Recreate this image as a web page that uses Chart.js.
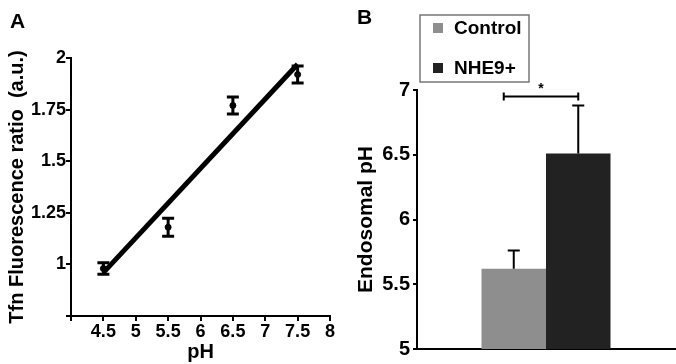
<!DOCTYPE html>
<html lang="en">
<head>
    <meta charset="UTF-8" />
    <title>Endosomal pH</title>
    <script src="https://cdn.jsdelivr.net/npm/chart.js"></script>
    <style>
        body { margin: 0; background: #fff; }
        .painel { position: absolute; top: 0; }
        .letra { position: absolute; font: bold 21px "Liberation Sans", Arial, sans-serif; }
    </style>
</head>
<body>
    <canvas id="chartA" class="painel" width="340" height="364" style="left:0px"></canvas>
    <canvas id="chartB" class="painel" width="336" height="364" style="left:340px"></canvas>
    <div class="letra" style="left:10px; top:9px">A</div>
    <div class="letra" style="left:357px; top:5px">B</div>

<script>
    // painel A: razao de fluorescencia x pH
    var phValues = [4.5, 5.5, 6.5, 7.5];
    var ratioValues = [0.98, 1.18, 1.77, 1.92];
    var ratioErrors = [0.028, 0.044, 0.041, 0.041];
    var fitX = [4.5, 7.5];
    var fitY = [0.96, 1.97];
    var xTicks = [4, 4.5, 5, 5.5, 6, 6.5, 7, 7.5, 8];
    var yTicksA = [0.75, 1, 1.25, 1.5, 1.75, 2];

    // painel B: pH endossomal
    var groups = ["Control", "NHE9+"];
    var endosomalPH = [5.62, 6.51];
    var endosomalErr = [0.14, 0.37];
    var groupColors = ["#8e8e8e", "#222222"];
    var yTicksB = [5, 5.5, 6, 6.5, 7];
    var sigLevel = 6.95;

    var FONTE = '"Liberation Sans", Arial, sans-serif';
    Chart.defaults.font.family = FONTE;
    Chart.defaults.font.weight = "bold";
    Chart.defaults.color = "#000";

    // barras de erro do painel A (simetricas)
    var errosA = {
        id: "errosA",
        afterDatasetsDraw(chart) {
            var ctx = chart.ctx;
            var x = chart.scales.x, y = chart.scales.y;
            ctx.save();
            ctx.strokeStyle = "#000";
            ctx.lineWidth = 3;
            for (var i = 0; i < phValues.length; i++) {
                var px = x.getPixelForValue(phValues[i]);
                var top = y.getPixelForValue(ratioValues[i] + ratioErrors[i]);
                var bot = y.getPixelForValue(ratioValues[i] - ratioErrors[i]);
                ctx.beginPath();
                ctx.moveTo(px, top); ctx.lineTo(px, bot);
                ctx.moveTo(px - 6, top); ctx.lineTo(px + 6, top);
                ctx.moveTo(px - 6, bot); ctx.lineTo(px + 6, bot);
                ctx.stroke();
            }
            ctx.restore();
        }
    };

    new Chart(document.getElementById("chartA"), {
        type: "scatter",
        data: {
            datasets: [
                {
                    type: "line",
                    data: fitX.map(function (v, i) { return { x: v, y: fitY[i] }; }),
                    borderColor: "#000",
                    borderWidth: 5,
                    pointRadius: 0,
                    order: 2
                },
                {
                    data: phValues.map(function (v, i) { return { x: v, y: ratioValues[i] }; }),
                    backgroundColor: "#000",
                    borderColor: "#000",
                    pointRadius: 3,
                    order: 1
                }
            ]
        },
        options: {
            responsive: false,
            animation: false,
            layout: { padding: { top: 58, right: 10, left: 0, bottom: 0 } },
            plugins: { legend: { display: false }, tooltip: { enabled: false } },
            scales: {
                x: {
                    type: "linear",
                    min: 4, max: 8,
                    afterFit: function (s) { s.height = 48; },
                    afterBuildTicks: function (s) { s.ticks = xTicks.map(function (v) { return { value: v }; }); },
                    ticks: {
                        font: { size: 18, weight: "bold" },
                        padding: 0,
                        maxRotation: 0,
                        callback: function (v) { return v === 4 ? "" : String(v); }
                    },
                    grid: { drawOnChartArea: false, tickLength: 5, color: "#000", lineWidth: 2 },
                    border: { color: "#000", width: 2 },
                    title: { display: true, text: "pH", font: { size: 20, weight: "bold" }, padding: { top: 0, bottom: 0 } }
                },
                y: {
                    min: 0.75, max: 2,
                    afterFit: function (s) { s.width = 71; },
                    afterBuildTicks: function (s) { s.ticks = yTicksA.map(function (v) { return { value: v }; }); },
                    ticks: {
                        font: { size: 18, weight: "bold" },
                        padding: 0,
                        callback: function (v) { return v === 0.75 ? "" : String(v); }
                    },
                    grid: { drawOnChartArea: false, tickLength: 5, color: "#000", lineWidth: 2 },
                    border: { color: "#000", width: 2 },
                    title: { display: true, text: "Tfn Fluorescence ratio  (a.u.)", font: { size: 20, weight: "bold" }, padding: { top: 5, bottom: 0 } }
                }
            }
        },
        plugins: [errosA]
    });

    // erro so para cima, legenda em caixa e barra de significancia
    var extrasB = {
        id: "extrasB",
        afterDatasetsDraw(chart) {
            var ctx = chart.ctx;
            var y = chart.scales.y;
            var area = chart.chartArea;
            ctx.save();
            ctx.strokeStyle = "#000";
            ctx.lineWidth = 2;
            var centros = [];
            for (var i = 0; i < groups.length; i++) {
                var barra = chart.getDatasetMeta(i).data[0];
                centros.push(barra.x);
                var topo = y.getPixelForValue(endosomalPH[i] + endosomalErr[i]);
                var base = y.getPixelForValue(endosomalPH[i]);
                ctx.beginPath();
                ctx.moveTo(barra.x, base); ctx.lineTo(barra.x, topo);
                ctx.moveTo(barra.x - 6, topo); ctx.lineTo(barra.x + 6, topo);
                ctx.stroke();
            }

            // barra do asterisco
            var ys = y.getPixelForValue(sigLevel);
            var x1 = centros[0] - 10, x2 = centros[1];
            ctx.beginPath();
            ctx.moveTo(x1, ys); ctx.lineTo(x2, ys);
            ctx.moveTo(x1, ys - 4); ctx.lineTo(x1, ys + 4);
            ctx.moveTo(x2, ys - 4); ctx.lineTo(x2, ys + 4);
            ctx.stroke();
            ctx.fillStyle = "#000";
            ctx.font = "bold 14px " + FONTE;
            ctx.textAlign = "center";
            ctx.textBaseline = "middle";
            ctx.fillText("*", (x1 + x2) / 2, ys - 7);

            // legenda
            var lx = area.left + 3, ly = 15;
            ctx.strokeStyle = "#777";
            ctx.lineWidth = 1.5;
            ctx.strokeRect(lx, ly, 109, 67);
            ctx.font = "bold 19px " + FONTE;
            ctx.textAlign = "left";
            for (var j = 0; j < groups.length; j++) {
                var cy = ly + 13 + j * 40;
                ctx.fillStyle = groupColors[j];
                ctx.fillRect(lx + 13, cy - 5, 10, 10);
                ctx.fillStyle = "#000";
                ctx.fillText(groups[j], lx + 34, cy + 1);
            }
            ctx.restore();
        }
    };

    new Chart(document.getElementById("chartB"), {
        type: "bar",
        data: {
            labels: [""],
            datasets: groups.map(function (g, i) {
                return {
                    label: g,
                    data: [endosomalPH[i]],
                    backgroundColor: groupColors[i],
                    categoryPercentage: 0.5,
                    barPercentage: 1.0
                };
            })
        },
        options: {
            responsive: false,
            animation: false,
            layout: { padding: { top: 90, right: 1, left: 0, bottom: 0 } },
            plugins: { legend: { display: false }, tooltip: { enabled: false } },
            scales: {
                x: {
                    afterFit: function (s) { s.height = 15; },
                    ticks: { display: false },
                    grid: { display: false },
                    border: { color: "#000", width: 2 }
                },
                y: {
                    min: 5, max: 7,
                    afterFit: function (s) { s.width = 77; },
                    afterBuildTicks: function (s) { s.ticks = yTicksB.map(function (v) { return { value: v }; }); },
                    ticks: {
                        font: { size: 20, weight: "bold" },
                        padding: 3,
                        callback: function (v) { return String(v); }
                    },
                    grid: { drawOnChartArea: false, tickLength: 4, color: "#000", lineWidth: 2 },
                    border: { color: "#000", width: 2 },
                    title: { display: true, text: "Endosomal pH", font: { size: 21, weight: "bold" }, padding: { top: 14, bottom: 0 } }
                }
            }
        },
        plugins: [extrasB]
    });
</script>
</body>
</html>
